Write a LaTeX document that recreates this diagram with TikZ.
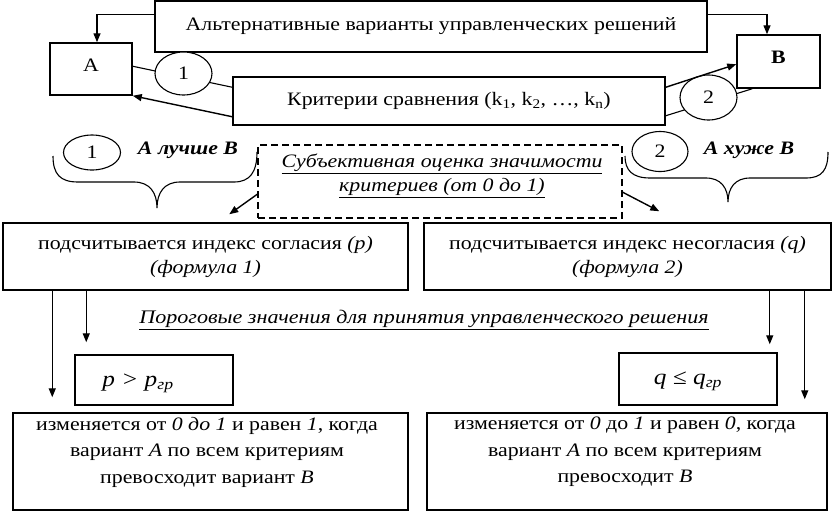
\documentclass[tikz,border=0pt]{standalone}
\usepackage{fontspec}
\setmainfont{Liberation Serif}[FakeStretch=1.15]
\usetikzlibrary{arrows.meta,shapes.geometric,backgrounds,calc}
\begin{document}
\begin{tikzpicture}[x=1pt,y=-1pt,font=\fontsize{19}{24}\selectfont,
 box/.style={draw, line width=1.5pt, inner sep=0pt, align=center},
 oval/.style={draw, ellipse, line width=1.1pt, fill=white, inner sep=0pt},
 arr/.style={line width=1.4pt, -{Triangle[length=9pt,width=7pt]}},
 ln/.style={line width=1.1pt},
 txt/.style={inner sep=0pt, align=center},
 brc/.style={line width=1.1pt}]
\useasboundingbox (0,0) rectangle (834,512);

\node[box, minimum width=552pt, minimum height=51pt] (top) at (431,26.5) {Альтернативные варианты управленческих решений};
\node[box, minimum width=82pt, minimum height=52pt, text depth=8pt] (A) at (91,69) {А};
\node[box, minimum width=83pt, minimum height=53pt, text depth=9pt] (B) at (778.5,61.5) {\bfseries В};
\node[box, minimum width=432pt, minimum height=48pt] (crit) at (449,101) {Критерии сравнения (k\textsubscript{1}, k\textsubscript{2}, …, k\textsubscript{n})};

\begin{scope}[on background layer]
\draw[ln] ($(A.north east)+(0,24)$) -- ($(crit.north west)+(0,11)$);
\draw[ln] ($(crit.south east)+(0,-10)$) -- ($(B.south west)+(16,0)$);
\end{scope}

\node[oval, minimum width=57pt, minimum height=43pt] (e1) at (183.5,73.5) {1};
\node[oval, minimum width=57pt, minimum height=45pt] (e2) at (708.5,97.5) {2};
\node[oval, minimum width=57pt, minimum height=35pt] (e3) at (92,152.5) {1};
\node[oval, minimum width=56pt, minimum height=40pt] (e4) at (660,151.5) {2};

\node[txt, font=\fontsize{19}{24}\selectfont\bfseries\itshape] (better) at (188,150) {А лучше В};
\node[txt, font=\fontsize{19}{24}\selectfont\bfseries\itshape] (worse) at (749,150) {А хуже В};

\node[box, dashed, dash pattern=on 7pt off 4pt, minimum width=364pt, minimum height=73pt] (subj) at (440,181.5) {};
\node[txt, font=\fontsize{19}{24}\selectfont\itshape] (subjt) at (442,176) {\underline{Субъективная оценка значимости}\\\underline{критериев (от 0 до 1)}};

\node[box, minimum width=405pt, minimum height=67pt] (pbox) at (205.5,256.5) {подсчитывается индекс согласия \textit{(p)}\\\textit{(формула 1)}};
\node[box, minimum width=407pt, minimum height=67pt] (qbox) at (627.5,256.5) {подсчитывается индекс несогласия \textit{(q)}\\\textit{(формула 2)}};

\node[txt, font=\fontsize{19.2}{24}\selectfont\itshape] (thr) at (424,320) {\underline{Пороговые значения для принятия управленческого решения}};

\node[box, minimum width=158pt, minimum height=50pt] (pg) at (154,380) {};
\node[txt, font=\fontsize{22}{24}\selectfont\itshape] (pgt) at (138,383) {p > p\textsubscript{гр}};
\node[box, minimum width=158pt, minimum height=52pt] (qg) at (698,379) {};
\node[txt, font=\fontsize{22}{24}\selectfont\itshape] (qgt) at (688,381) {q ≤ q\textsubscript{гр}};

\node[box, minimum width=395pt, minimum height=97pt] (bl) at (210.5,461.5) {};
\node[txt, font=\fontsize{19}{26.5}\selectfont] (blt) at (207,452) {изменяется от \textit{0 до 1} и равен \textit{1}, когда\\вариант \textit{А} по всем критериям\\превосходит вариант \textit{В}};
\node[box, minimum width=400pt, minimum height=97pt] (br) at (627,461.5) {};
\node[txt, font=\fontsize{19}{26.5}\selectfont] (brt) at (625,452) {изменяется от \textit{0} до \textit{1} и равен \textit{0}, когда\\вариант \textit{А} по всем критериям\\превосходит \textit{В}};

% connectors
\draw[arr] ($(top.north west)+(0,14)$) -| ($(A.north)+(6,0)$);
\draw[arr] ($(top.north east)+(0,14)$) -| ($(B.north)+(-11.5,0)$);
\draw[arr] ($(crit.south west)+(0,-9)$) -- (A.south east);
\draw[arr] ($(crit.north east)+(0,11)$) -- ($(B.north west)+(0,30)$);
\draw[arr] ($(subj.north west)+(0,50)$) -- ($(pbox.north west)+(227,-8)$);
\draw[arr] ($(subj.north east)+(0,48)$) -- ($(qbox.north west)+(236,-11)$);
\draw[arr] ($(pbox.south west)+(50,0)$) -- ($(bl.north west)+(40,-15)$);
\draw[arr] ($(pbox.south west)+(84,0)$) -- ($(pg.north west)+(12,-12)$);
\draw[arr] ($(qbox.south east)+(-62,0)$) -- ($(qg.north east)+(-8,-8)$);
\draw[arr] ($(qbox.south east)+(-27,0)$) -- ($(br.north east)+(-23,-13)$);

% braces
\draw[brc] (53,156) .. controls (53,174) and (60,182) .. (78,182) -- (134,182)
  .. controls (150,182) and (157,193) .. (157,208)
  .. controls (157,193) and (164,182) .. (180,182) -- (234,182)
  .. controls (250,182) and (257,172) .. (257,152);
\draw[brc] (625,156) .. controls (625,170) and (632,178) .. (650,178) -- (706,178)
  .. controls (721,178) and (728,188) .. (728,202)
  .. controls (728,188) and (735,178) .. (750,178) -- (806,178)
  .. controls (822,178) and (828,170) .. (828,152);
\end{tikzpicture}
\end{document}
